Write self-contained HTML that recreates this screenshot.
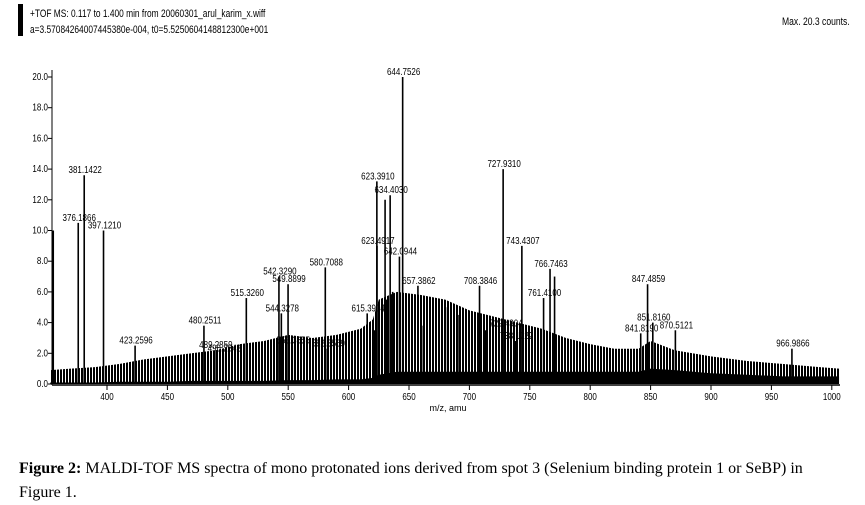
<!DOCTYPE html>
<html><head><meta charset="utf-8"><style>
body{margin:0;background:#fff;width:865px;height:501px;overflow:hidden;position:relative;font-family:"Liberation Sans",sans-serif}
.cap{position:absolute;left:19px;top:457px;font-family:"Liberation Serif",serif;font-size:16px;line-height:24px;width:820px}
</style></head><body>
<div style="position:absolute;left:18px;top:4px;width:5px;height:32px;background:#000"></div>
<div style="position:absolute;left:30px;top:6px;font-size:11px;line-height:16px;transform:scaleX(0.76);transform-origin:left top;white-space:nowrap">+TOF MS: 0.117 to 1.400 min from 20060301_arul_karim_x.wiff<br>a=3.57084264007445380e-004, t0=5.52506041488123​00e+001</div>
<div style="position:absolute;left:782px;top:16px;font-size:11px;transform:scaleX(0.78);transform-origin:left top;white-space:nowrap">Max. 20.3 counts.</div>
<svg id="chart" width="865" height="430" style="position:absolute;left:0;top:0">
<defs><pattern id="hatch" width="3" height="4" patternUnits="userSpaceOnUse"><rect width="2" height="4" fill="#000"/></pattern></defs>
</svg>
<div class="cap"><b>Figure 2:</b> MALDI-TOF MS spectra of mono protonated ions derived from spot 3 (Selenium binding protein 1 or SeBP) in Figure 1.</div>
<script>
const xTicks=[400,450,500,550,600,650,700,750,800,850,900,950,1000];
const yTicks=[0,2,4,6,8,10,12,14,16,18,20];
const envMz=[353,370,390,410,430,450,470,490,510,530,550,570,590,610,620,625,640,660,680,700,720,740,760,780,800,820,840,850,870,900,930,960,990,1006];
const envTop=[0.9,1.0,1.1,1.3,1.6,1.8,2.0,2.2,2.6,2.8,3.2,3.0,3.2,3.6,4.2,5.5,6.0,5.8,5.5,4.8,4.4,4.0,3.6,3.0,2.6,2.3,2.3,2.8,2.2,1.8,1.5,1.3,1.1,1.0];
const envBot=[0.1,0.1,0.1,0.15,0.15,0.15,0.2,0.2,0.2,0.2,0.25,0.25,0.3,0.3,0.4,0.6,0.8,0.8,0.8,0.8,0.8,0.8,0.8,0.8,0.8,0.8,0.8,1.0,0.9,0.7,0.6,0.5,0.5,0.5];
const peakMz=[355.5,376.19,381.14,397.12,423.26,480.25,489.29,496.28,515.33,542.33,544.33,549.89,553.37,580.71,582.36,615.39,621.5,623.39,623.49,630.2,631.5,634.40,636.5,642.09,644.75,657.39,660.5,680.2,690.5,708.38,713.5,727.93,729.43,738.2,743.43,761.41,766.75,770.5,841.82,847.49,851.82,870.51,966.99];
const peakInt=[10.0,10.5,13.6,10.0,2.5,3.8,2.2,2.0,5.6,7.0,4.6,6.5,2.5,7.6,2.3,4.6,3.5,13.2,9.0,12.0,5.5,12.3,6.0,8.3,20.0,6.4,3.8,5.0,4.5,6.4,3.5,14.0,3.6,2.8,9.0,5.6,7.5,7.0,3.3,6.5,4.0,3.5,2.3];
const labels=["","376.1866","381.1422","397.1210","423.2596","480.2511","489.2859","496.2842","515.3260","542.3290","544.3278","549.8899","553.3655","580.7088","582.3569","615.3904","","623.3910","623.4917","","","634.4030","","642.0944","644.7526","657.3862","","","","708.3846","","727.9310","729.4304","738.1222","743.4307","761.4100","766.7463","","841.8190","847.4859","851.8160","870.5121","966.9866"];
const NS="http://www.w3.org/2000/svg";
const svg=document.getElementById('chart');
const X0=52,X1=840,Y0=384,Y20=77;
const sx=m=>107+(m-400)*60.4/50;
const sy=v=>Y0-(v/20)*(Y0-Y20);
function mk(t,a){const e=document.createElementNS(NS,t);for(const k in a)e.setAttribute(k,a[k]);svg.appendChild(e);return e;}
let d="M"+sx(envMz[0])+","+Y0;
envMz.forEach((m,i)=>{d+=" L"+sx(m)+","+sy(envTop[i]);});
d+=" L"+sx(envMz[envMz.length-1])+","+Y0;
const env=mk('path',{d:d+"Z",fill:"url(#hatch)"});


let d2="M"+sx(envMz[0])+","+Y0;
envMz.forEach((m,i)=>{d2+=" L"+sx(m)+","+sy(envBot[i]);});
d2+=" L"+sx(envMz[envMz.length-1])+","+Y0;
const base=mk('path',{d:d2+"Z",fill:"#000"});


peakMz.forEach((m,i)=>{
 const l=mk('line',{x1:sx(m),x2:sx(m),y1:Y0,y2:sy(peakInt[i]),stroke:"#000","stroke-width":1.6});
 
 
 if(labels[i]){const t=mk('text',{x:sx(m)+1,y:sy(peakInt[i])-2,"font-size":10,"text-anchor":"middle","font-family":"Liberation Sans, sans-serif",transform:`translate(${sx(m)+1},0) scale(0.8,1) translate(${-(sx(m)+1)},0)`});
 t.textContent=labels[i];
 
 }
});
const ax=mk('line',{x1:X0,x2:X1,y1:Y0+1,y2:Y0+1,stroke:"#000","stroke-width":1.5});


const ay=mk('line',{x1:X0,x2:X0,y1:70,y2:Y0+1,stroke:"#000","stroke-width":1});


xTicks.forEach(v=>{mk('line',{x1:sx(v),x2:sx(v),y1:Y0+1,y2:Y0+6,stroke:"#000"});
 const t=mk('text',{x:sx(v),y:Y0+16,"font-size":10,"text-anchor":"middle",transform:`translate(${sx(v)},0) scale(0.8,1) translate(${-sx(v)},0)`});t.textContent=v;
 
 });
yTicks.forEach(v=>{mk('line',{x1:X0-4,x2:X0,y1:sy(v),y2:sy(v),stroke:"#000"});
 const t=mk('text',{x:X0-4,y:sy(v)+3,"font-size":10,"text-anchor":"end",transform:`translate(${X0-4},0) scale(0.8,1) translate(${-(X0-4)},0)`});t.textContent=v.toFixed(1);
 
 });
const xt=mk('text',{x:448,y:411,"font-size":9,"text-anchor":"middle"});xt.textContent="m/z, amu";


</script>
</body></html>
